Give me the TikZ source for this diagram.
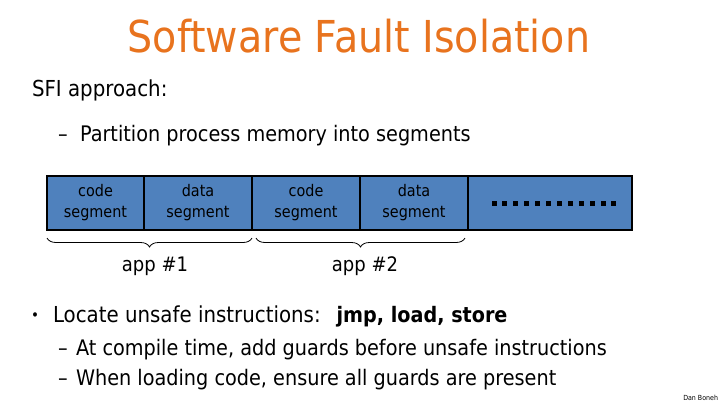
\documentclass[tikz,border=0pt]{standalone}
\usepackage{fontspec}
\setmainfont{DejaVu Sans}[FakeStretch=0.9]
\usetikzlibrary{positioning,calc,decorations.pathreplacing}
\definecolor{titleorange}{HTML}{E8731E}
\definecolor{segblue}{HTML}{4F81BD}

\begin{document}
\begin{tikzpicture}[x=1pt, y=-1pt,
    every node/.style={inner sep=0pt, outer sep=0pt},
    cell/.style={draw=black, line width=1.5pt, fill=segblue, minimum height=54pt,
      align=center, font=\fontsize{16}{21}\selectfont},
    bodytext/.style={anchor=base west, font=\fontsize{22}{26}\selectfont},
    subtext/.style={anchor=base west, font=\fontsize{21.4}{26}\selectfont},
    applabel/.style={anchor=base, font=\fontsize{20}{24}\selectfont},
    brace/.style={decorate, decoration={brace, mirror, amplitude=9pt}, line width=0.8pt}]
    \useasboundingbox (0,0) rectangle (720,405);

    % 标题
    \node[anchor=base, text=titleorange, font=\fontsize{44}{50}\selectfont] (title) at (359,52) {Software Fault Isolation};

    % 第一段文字
    \node[bodytext] (sfi) at (32,96) {SFI approach:};
    \node[subtext] (dash1) at (58,141) {–};
    \node[subtext] (part) at (80,141) {Partition process memory into segments};

    % 内存分段
    \node[cell, minimum width=97pt] (code1) at (95.5,203) {code\\segment};
    \node[cell, minimum width=108pt, right=0pt of code1] (data1) {data\\segment};
    \node[cell, minimum width=108pt, right=0pt of data1] (code2) {code\\segment};
    \node[cell, minimum width=108pt, right=0pt of code2] (data2) {data\\segment};
    \node[cell, minimum width=164pt, right=0pt of data2] (rest) {};
    \foreach \i in {0,...,11} {
        \fill ($(rest.center)+(-58.5+\i*10.9,-2.5)$) rectangle ++(5,5);
    }

    % 花括号
    \coordinate (b1l) at ($(code1.south west)+(0,8)$);
    \coordinate (b1r) at ($(data1.south east)+(0,8)$);
    \coordinate (b2l) at ($(code2.south west)+(4,8)$);
    \coordinate (b2r) at ($(data2.south east)+(-3,8)$);
    \draw[brace] (b1l) -- (b1r);
    \draw[brace] (b2l) -- (b2r);
    \node[applabel] (app1) at (155,271) {app \#1};
    \node[applabel] (app2) at (365,271) {app \#2};

    % 第二段文字
    \node[anchor=base west, font=\fontsize{15}{16}\selectfont] (dot) at (31,320) {•};
    \node[bodytext] (locate) at (53,322) {Locate unsafe instructions:\hspace{16pt}{\fontsize{21.3}{26}\selectfont\bfseries jmp, load, store}};
    \node[subtext] (dash2) at (58,355) {–};
    \node[subtext] (comp) at (76,355) {At compile time, add guards before unsafe instructions};
    \node[subtext] (dash3) at (58,385) {–};
    \node[subtext] (load) at (76,385) {When loading code, ensure all guards are present};

    \node[anchor=base east, font=\fontsize{7}{8}\selectfont] (author) at (718,400) {Dan Boneh};
\end{tikzpicture}
\end{document}
